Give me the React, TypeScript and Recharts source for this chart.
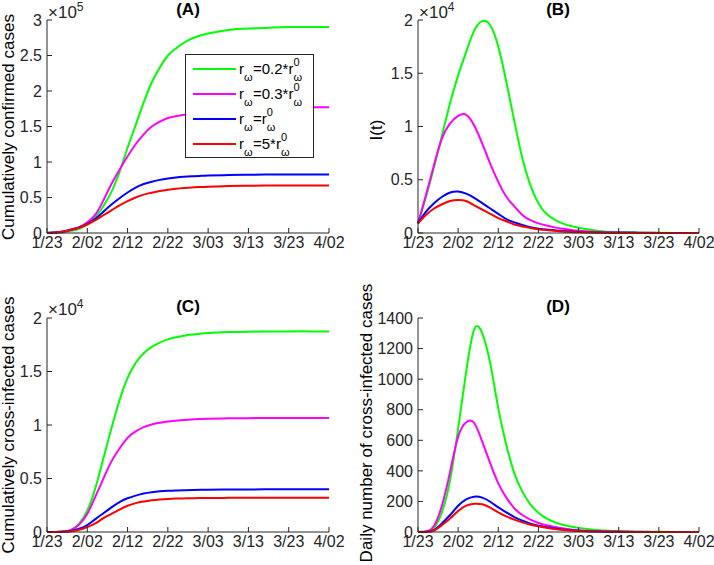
import { Legend, Line, LineChart, XAxis, YAxis } from "recharts";

const INK = "#262626";
const FONT = "'Liberation Sans', Arial, Helvetica, sans-serif";

// days after 1/23 (2020)
const days = [0, 2, 4, 6, 8, 10, 12, 14, 16, 18, 20, 22, 24, 26, 28, 30, 32, 34, 36, 38, 40, 45, 50, 55, 60, 65, 70];
const dateTicks = [0, 10, 20, 30, 40, 50, 60, 70];
const dateLabels = ["1/23", "2/02", "2/12", "2/22", "3/03", "3/13", "3/23", "4/02"];

const seriesKeys = ["r02", "r03", "r1", "r5"];
const seriesColors = ["#00ff00", "#ff00ff", "#0000ff", "#ff0000"];
const legendCoefs = ["0.2*", "0.3*", "", "5*"];

// (A) cumulatively confirmed cases, x10^5
const confirmed02 = [0, 0.005, 0.012, 0.03, 0.06, 0.12, 0.22, 0.38, 0.58, 0.86, 1.2, 1.52, 1.84, 2.12, 2.33, 2.5, 2.6, 2.68, 2.74, 2.78, 2.81, 2.86, 2.88, 2.89, 2.9, 2.9, 2.9];
const confirmed03 = [0, 0.006, 0.015, 0.04, 0.08, 0.15, 0.26, 0.46, 0.69, 0.89, 1.08, 1.25, 1.39, 1.5, 1.57, 1.62, 1.645, 1.665, 1.685, 1.7, 1.715, 1.74, 1.755, 1.765, 1.77, 1.77, 1.77];
const confirmed1 = [0, 0.008, 0.02, 0.05, 0.08, 0.13, 0.2, 0.3, 0.4, 0.49, 0.57, 0.64, 0.69, 0.722, 0.748, 0.767, 0.781, 0.791, 0.798, 0.804, 0.809, 0.816, 0.82, 0.823, 0.825, 0.825, 0.825];
const confirmed5 = [0, 0.008, 0.02, 0.045, 0.075, 0.12, 0.18, 0.25, 0.32, 0.39, 0.45, 0.5, 0.54, 0.567, 0.592, 0.61, 0.624, 0.634, 0.642, 0.648, 0.653, 0.661, 0.666, 0.668, 0.67, 0.67, 0.67];
const confirmedTicks = [0, 0.5, 1, 1.5, 2, 2.5, 3];

// (B) I(t), x10^4
const infected02 = [0.09, 0.34, 0.62, 0.92, 1.22, 1.48, 1.7, 1.9, 1.99, 1.95, 1.75, 1.42, 1.05, 0.7, 0.45, 0.28, 0.18, 0.125, 0.09, 0.065, 0.05, 0.02, 0.01, 0.005, 0.002, 0.001, 0];
const infected03 = [0.09, 0.36, 0.64, 0.89, 1.03, 1.1, 1.11, 1.01, 0.84, 0.65, 0.48, 0.34, 0.25, 0.17, 0.12, 0.09, 0.07, 0.053, 0.04, 0.03, 0.022, 0.01, 0.004, 0.002, 0.001, 0, 0];
const infected1 = [0.09, 0.2, 0.28, 0.34, 0.38, 0.39, 0.37, 0.33, 0.28, 0.23, 0.18, 0.13, 0.1, 0.075, 0.055, 0.041, 0.032, 0.025, 0.019, 0.014, 0.01, 0.004, 0.002, 0.001, 0, 0, 0];
const infected5 = [0.09, 0.17, 0.23, 0.27, 0.3, 0.31, 0.3, 0.26, 0.22, 0.18, 0.14, 0.11, 0.08, 0.062, 0.047, 0.035, 0.027, 0.02, 0.014, 0.01, 0.007, 0.003, 0.001, 0, 0, 0, 0];
const infectedTicks = [0, 0.5, 1, 1.5, 2];

// (C) cumulatively cross-infected cases, x10^4
const cross02 = [0, 0.001, 0.004, 0.02, 0.08, 0.2, 0.41, 0.69, 0.97, 1.23, 1.44, 1.58, 1.67, 1.73, 1.77, 1.8, 1.82, 1.835, 1.845, 1.853, 1.86, 1.868, 1.872, 1.874, 1.875, 1.875, 1.875];
const cross03 = [0, 0.001, 0.005, 0.02, 0.07, 0.17, 0.33, 0.5, 0.66, 0.78, 0.88, 0.94, 0.98, 1.005, 1.02, 1.032, 1.04, 1.047, 1.052, 1.056, 1.059, 1.062, 1.064, 1.065, 1.065, 1.065, 1.065];
const cross1 = [0, 0.0005, 0.003, 0.01, 0.03, 0.065, 0.12, 0.175, 0.23, 0.28, 0.315, 0.34, 0.36, 0.372, 0.38, 0.385, 0.388, 0.39, 0.392, 0.394, 0.395, 0.397, 0.398, 0.399, 0.4, 0.4, 0.4];
const cross5 = [0, 0.0005, 0.002, 0.008, 0.02, 0.045, 0.08, 0.13, 0.17, 0.21, 0.245, 0.27, 0.285, 0.297, 0.304, 0.309, 0.312, 0.314, 0.316, 0.317, 0.318, 0.319, 0.32, 0.32, 0.32, 0.32, 0.32];
const crossTicks = [0, 0.5, 1, 1.5, 2];

// (D) daily number of cross-infected cases
const daily02 = [0, 2, 28, 133, 340, 678, 1049, 1325, 1300, 1103, 809, 569, 384, 264, 181, 126, 89, 65, 48, 36, 27, 12, 5, 2, 1, 0, 0];
const daily03 = [0, 2, 41, 177, 395, 624, 718, 713, 591, 449, 318, 225, 155, 111, 81, 59, 44, 33, 24, 17, 12, 5, 2, 1, 0, 0, 0];
const daily1 = [0, 1, 13, 57, 111, 172, 214, 231, 225, 198, 161, 129, 98, 74, 55, 41, 31, 24, 17, 12, 8, 3, 1, 0, 0, 0, 0];
const daily5 = [0, 1, 10, 46, 89, 137, 172, 185, 181, 159, 129, 102, 81, 63, 48, 37, 28, 20, 14, 10, 7, 3, 1, 0, 0, 0, 0];
const dailyTicks = [0, 200, 400, 600, 800, 1000, 1200, 1400];

function buildRows(series: number[][]) {
    return days.map((day, i) => {
        const row: Record<string, number> = { day };
        seriesKeys.forEach((key, j) => {
            row[key] = series[j][i];
        });
        return row;
    });
}

function Omega({ top }: { top: number }) {
    return <span style={{ position: "absolute", left: 0, top, fontSize: 11, lineHeight: "11px" }}>ω</span>;
}

function LegendBox({ payload }: any) {
    // keep plotting order (recharts sorts legend items by default)
    const items = [...(payload || [])].sort(
        (a: any, b: any) => seriesKeys.indexOf(a.dataKey) - seriesKeys.indexOf(b.dataKey)
    );
    return (
        <div style={{ border: `1px solid ${INK}`, background: "#fff", padding: "1px 0 1px 7px", fontFamily: FONT, color: "#000" }}>
            {items.map((entry: any) => (
                <div key={entry.dataKey} style={{ display: "flex", alignItems: "center", height: 25 }}>
                    <div style={{ width: 43, height: 2, background: entry.color }} />
                    <span style={{ marginLeft: 3, fontSize: 15, whiteSpace: "nowrap" }}>
                        r
                        <span style={{ display: "inline-block", position: "relative", width: 9 }}>
                            <Omega top={-2} />
                        </span>
                        ={entry.value}r
                        <span style={{ display: "inline-block", position: "relative", width: 9 }}>
                            <span style={{ position: "absolute", left: 0, top: -17, fontSize: 11, lineHeight: "11px" }}>0</span>
                            <Omega top={-2} />
                        </span>
                    </span>
                </div>
            ))}
        </div>
    );
}

type PanelProps = {
    left: number;
    top: number;
    width: number;
    height: number;
    margin: { top: number; right: number; bottom: number; left: number };
    yWidth: number;
    yTicks: number[];
    series: number[][];
    legend?: boolean;
};

function Panel({ left, top, width, height, margin, yWidth, yTicks, series, legend }: PanelProps) {
    const rows = buildRows(series);
    const yDomain = [yTicks[0], yTicks[yTicks.length - 1]];
    const tickStyle = { fill: INK, fontSize: 16, fontFamily: FONT };
    return (
        <div style={{ position: "absolute", left, top }}>
            <LineChart width={width} height={height} data={rows} margin={margin}>
                <XAxis
                    dataKey="day"
                    type="number"
                    domain={[0, 70]}
                    ticks={dateTicks}
                    interval={0}
                    tickFormatter={(v: number) => dateLabels[dateTicks.indexOf(v)]}
                    height={30}
                    tickSize={-5}
                    tickMargin={9}
                    stroke={INK}
                    tick={tickStyle}
                />
                <XAxis
                    xAxisId="top"
                    orientation="top"
                    dataKey="day"
                    type="number"
                    domain={[0, 70]}
                    ticks={dateTicks}
                    interval={0}
                    height={0}
                    tickSize={-5}
                    tick={false}
                    stroke={INK}
                />
                <YAxis
                    type="number"
                    domain={yDomain}
                    ticks={yTicks}
                    interval={0}
                    width={yWidth}
                    tickSize={-5}
                    tickMargin={10}
                    tickFormatter={(v: number) => String(v)}
                    stroke={INK}
                    tick={tickStyle}
                />
                <YAxis
                    yAxisId="right"
                    orientation="right"
                    type="number"
                    domain={yDomain}
                    ticks={yTicks}
                    interval={0}
                    width={0}
                    tickSize={-5}
                    tick={false}
                    stroke={INK}
                />
                {legend && (
                    <Legend
                        layout="vertical"
                        align="center"
                        verticalAlign="middle"
                        content={LegendBox}
                        wrapperStyle={{ left: 185, top: 54, width: 129 }}
                    />
                )}
                {seriesKeys.map((key, i) => (
                    <Line
                        key={key}
                        type="natural"
                        dataKey={key}
                        name={legendCoefs[i]}
                        stroke={seriesColors[i]}
                        strokeWidth={2}
                        dot={false}
                        isAnimationActive={false}
                    />
                ))}
            </LineChart>
        </div>
    );
}

function Exponent({ x, y, power }: { x: number; y: number; power: string }) {
    return (
        <text x={x} y={y} fontSize={17} fill={INK}>
            ×10
            <tspan fontSize={12} dy={-7}>{power}</tspan>
        </text>
    );
}

function YLabel({ x, y, text }: { x: number; y: number; text: string }) {
    return (
        <text x={x} y={y} fontSize={17} textAnchor="middle" fill="#000" transform={`rotate(-90, ${x}, ${y})`}>
            {text}
        </text>
    );
}

function Title({ x, y, text }: { x: number; y: number; text: string }) {
    return (
        <text x={x} y={y} fontSize={17} fontWeight="bold" textAnchor="middle" fill="#000">
            {text}
        </text>
    );
}

export default function App() {
    return (
        <div style={{ position: "absolute", left: 0, top: 0, width: 714, height: 565, background: "#fff", fontFamily: FONT }}>
            <Panel
                left={0}
                top={0}
                width={360}
                height={280}
                margin={{ top: 20, right: 31, bottom: 17, left: 7 }}
                yWidth={40}
                yTicks={confirmedTicks}
                series={[confirmed02, confirmed03, confirmed1, confirmed5]}
                legend
            />
            <Panel
                left={360}
                top={0}
                width={354}
                height={280}
                margin={{ top: 20, right: 15, bottom: 17, left: 13 }}
                yWidth={45}
                yTicks={infectedTicks}
                series={[infected02, infected03, infected1, infected5]}
            />
            <Panel
                left={0}
                top={280}
                width={360}
                height={285}
                margin={{ top: 38, right: 31, bottom: 3, left: 7 }}
                yWidth={40}
                yTicks={crossTicks}
                series={[cross02, cross03, cross1, cross5]}
            />
            <Panel
                left={360}
                top={280}
                width={354}
                height={285}
                margin={{ top: 38, right: 15, bottom: 3, left: 13 }}
                yWidth={45}
                yTicks={dailyTicks}
                series={[daily02, daily03, daily1, daily5]}
            />
            <svg width={714} height={565} style={{ position: "absolute", left: 0, top: 0, pointerEvents: "none" }} fontFamily={FONT}>
                <Title x={188} y={15} text="(A)" />
                <Title x={558} y={15} text="(B)" />
                <Title x={188} y={312} text="(C)" />
                <Title x={558} y={312} text="(D)" />
                <Exponent x={48} y={18} power="5" />
                <Exponent x={419} y={18} power="4" />
                <Exponent x={48} y={315} power="4" />
                <YLabel x={14} y={127} text="Cumulatively confirmed cases" />
                <YLabel x={382} y={130} text="I(t)" />
                <YLabel x={14} y={425} text="Cumulatively cross-infected cases" />
                <YLabel x={372} y={423} text="Daily number of cross-infected cases" />
            </svg>
        </div>
    );
}
